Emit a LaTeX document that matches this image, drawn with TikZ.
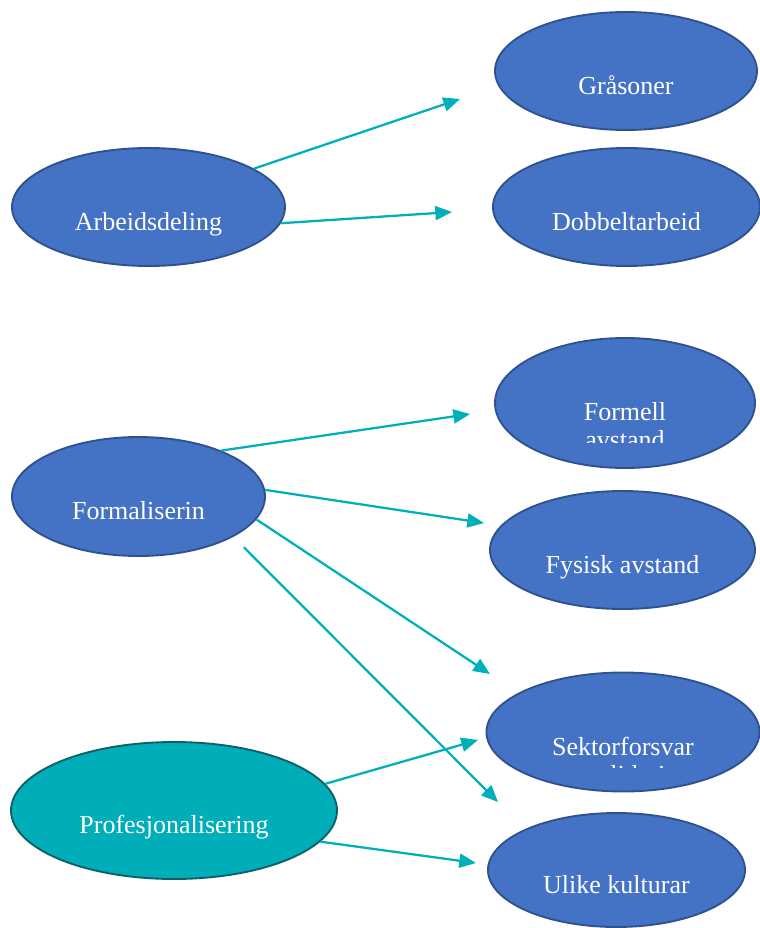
\documentclass[tikz,border=0pt]{standalone}
\usepackage{fontspec}
\setmainfont{Liberation Serif}
\usetikzlibrary{arrows.meta,shapes.geometric}

\definecolor{boxblue}{HTML}{4472C4}
\definecolor{boxedge}{HTML}{2F528F}
\definecolor{lagoon}{HTML}{00AEB9}
\definecolor{lagoonedge}{HTML}{0E5F66}
\definecolor{linkteal}{HTML}{00B0B9}

\begin{document}
\begin{tikzpicture}[
		x=0.75pt,y=-0.75pt,
		blob/.style={ellipse,draw=boxedge,fill=boxblue,line width=1.4pt,inner sep=0pt,
			text=white,font=\fontsize{19.5}{21}\selectfont,text height=35pt,text depth=0pt},
		txt/.style={text=white,font=\fontsize{19.5}{21}\selectfont,align=center,inner sep=0pt},
		link/.style={draw=linkteal,line width=1.7pt,-{Triangle[length=12.5pt,width=10.5pt]}}]
		\useasboundingbox (0,0) rectangle (760,928);

		% left column
		\node[blob,minimum width=204.75pt,minimum height=88.5pt] (arb) at (148.5,207) {Arbeidsdeling};
		\node[blob,minimum width=189.75pt,minimum height=89.25pt] (frm) at (138.5,496.5) {Formaliserin};
		\node[blob,fill=lagoon,draw=lagoonedge,minimum width=244.5pt,minimum height=102.75pt] (pro) at (174,810.5) {Profesjonalisering};

		% right column
		\node[blob,minimum width=196.5pt,minimum height=88.5pt] (gra) at (626,71) {Gråsoner};
		\node[blob,minimum width=200.25pt,minimum height=88.5pt] (dob) at (626.5,207) {Dobbeltarbeid};
		\node[blob,minimum width=195pt,minimum height=97.5pt] (fml) at (625,403) {};
		\node[blob,minimum width=198.75pt,minimum height=88.5pt] (fys) at (622.5,550) {Fysisk avstand};
		\node[blob,minimum width=204.75pt,minimum height=89.25pt] (sek) at (623,732) {};
		\node[blob,minimum width=192.75pt,minimum height=85.5pt] (ulk) at (616.5,870) {Ulike kulturar};

		% text that runs out of its box
		\begin{scope}
			\clip (480,330) rectangle (760,442);
			\node[txt,anchor=base,yshift=-33.75pt] (fmlTxt) at (fml.center) {Formell\\avstand};
		\end{scope}
		\begin{scope}
			\clip (480,670) rectangle (760,767);
			\node[txt,anchor=base,yshift=-38.25pt] (sekTxt) at (sek.center) {Sektorforsvar\\og solidaritet};
		\end{scope}

		% arrow ends
		\coordinate (graIn) at (460,99);
		\coordinate (dobIn) at (452,212);
		\coordinate (fmlIn) at (470,414);
		\coordinate (fysIn) at (484,523);
		\coordinate (sekIn) at (490,674);
		\coordinate (ulkIn) at (498,802);
		\coordinate (sekIn2) at (478,740);
		\coordinate (ulkIn2) at (476,863);

		\draw[link] (arb.20) -- (graIn);
		\draw[link] (arb.-7) -- (dobIn);
		\draw[link] (frm.29) -- (fmlIn);
		\draw[link] (frm.3) -- (fysIn);
		\draw[link] (frm.-11) -- (sekIn);
		\draw[link,shorten <=11pt] (frm.-23.5) -- (ulkIn);
		\draw[link] (pro.10) -- (sekIn2);
		\draw[link] (pro.-12) -- (ulkIn2);
\end{tikzpicture}
\end{document}
